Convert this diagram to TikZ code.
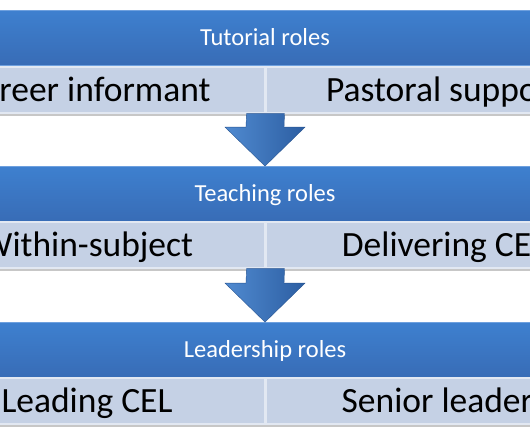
\documentclass[tikz,border=0pt]{standalone}
\usepackage{fontspec}
\setmainfont{Carlito}
\usetikzlibrary{calc}

\definecolor{bandtop}{RGB}{62,128,207}
\definecolor{bandbot}{RGB}{56,108,182}
\definecolor{bandedge}{RGB}{110,160,222}
\definecolor{cellfill}{RGB}{197,209,229}
\definecolor{celledge}{RGB}{226,232,242}
\definecolor{arrowlt}{RGB}{80,138,208}
\definecolor{arrowdk}{RGB}{44,94,162}

\tikzset{
  band/.style={minimum width=600pt, minimum height=55pt, inner sep=0pt,
    top color=bandtop, bottom color=bandbot, draw=bandedge, line width=0.8pt,
    text=white, font=\fontsize{24.5}{28}\selectfont, text height=15.8pt, text depth=0pt},
  cell/.style={minimum width=356pt, minimum height=46pt, inner sep=0pt,
    fill=cellfill, draw=celledge, line width=1.2pt,
    font=\fontsize{35.5}{40}\selectfont, text height=22.8pt, text depth=0pt},
  cellshadow/.style={fill=black!22},
  blockarrow/.style={left color=arrowlt, right color=arrowdk, draw=arrowdk!90!black, line width=0.4pt}
}

\begin{document}
\begin{tikzpicture}[x=1pt, y=-1pt]
    \path[use as bounding box, clip] (0,0) rectangle (530,442);
    \fill[white] (0,0) rectangle (530,442);

    % Tutorial roles
    \node[band] (tut) at (265, 37.5) {Tutorial roles};
    \fill[cellshadow] (-100, 113) rectangle (630, 116);
    \node[cell] (tutL) at (87, 90) {Career informant};
    \node[cell] (tutR) at (444, 90) {Pastoral support};

    % Teaching roles
    \node[band] (teach) at (265, 194) {Teaching roles};
    \fill[cellshadow] (-100, 268) rectangle (630, 271);
    \node[cell] (teachL) at (87, 245) {Within-subject};
    \node[cell] (teachR) at (444, 245) {Delivering CEL};

    % Leadership roles
    \node[band] (lead) at (265, 350) {Leadership roles};
    \fill[cellshadow] (-100, 424) rectangle (630, 427);
    \node[cell] (leadL) at (87, 401) {Leading CEL};
    \node[cell] (leadR) at (444, 401) {Senior leaders};

    % Pfeile
    \coordinate (a1) at ($(tutL.south east)!0.5!(tutR.south west)$);
    \coordinate (b1) at (teach.north);
    \draw[blockarrow] ($(a1)+(-19,0)$) -- ($(a1)+(19,0)$) -- ($(b1)+(19,-39)$)
        -- ($(b1)+(40,-39)$) -- (b1) -- ($(b1)+(-40,-39)$) -- ($(b1)+(-19,-39)$) -- cycle;

    \coordinate (a2) at ($(teachL.south east)!0.5!(teachR.south west)$);
    \coordinate (b2) at (lead.north);
    \draw[blockarrow] ($(a2)+(-19,0)$) -- ($(a2)+(19,0)$) -- ($(b2)+(19,-39)$)
        -- ($(b2)+(40,-39)$) -- (b2) -- ($(b2)+(-40,-39)$) -- ($(b2)+(-19,-39)$) -- cycle;
\end{tikzpicture}
\end{document}
